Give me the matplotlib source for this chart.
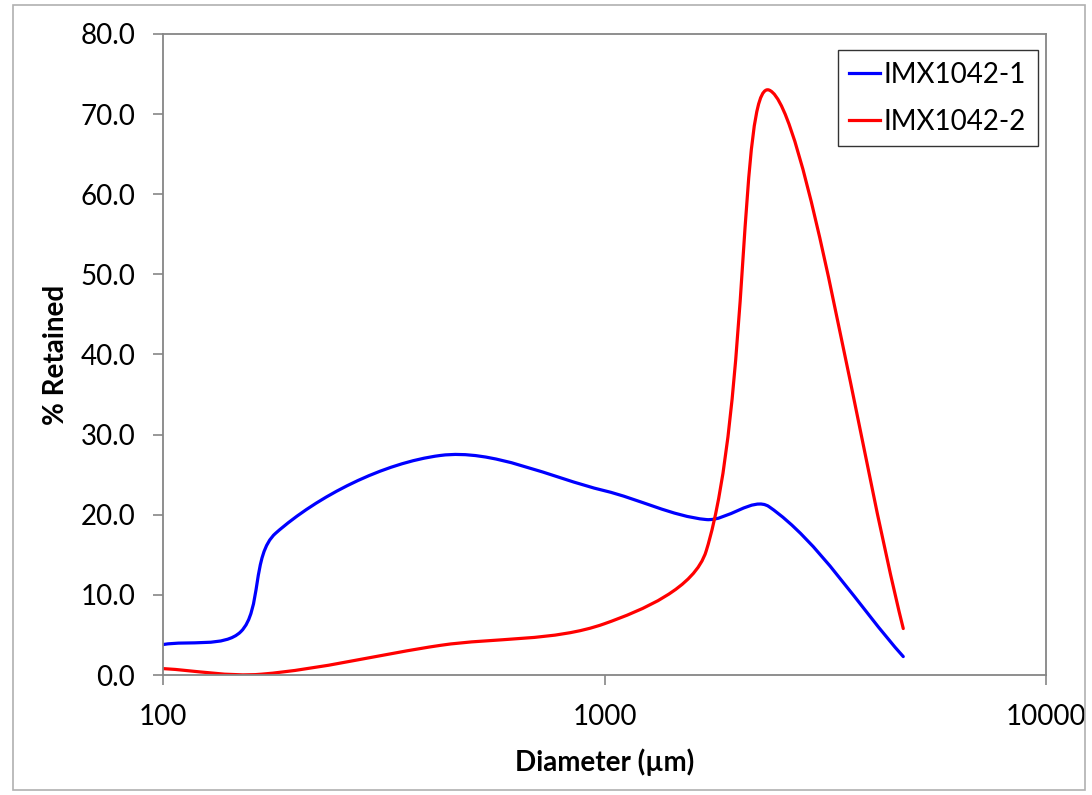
import numpy as np
import matplotlib
matplotlib.use("Agg")
import matplotlib.pyplot as plt
from matplotlib.path import Path
from matplotlib.patches import PathPatch, Rectangle
from matplotlib.lines import Line2D
from matplotlib.ticker import FixedLocator, NullLocator

# sieve data
x_blue = [100, 150, 180, 425, 1000, 1700, 2360, 4750]
y_blue = [3.8, 5.4, 17.7, 27.4, 23.0, 19.4, 21.0, 2.3]
x_red = [100, 167, 425, 1000, 1700, 2360, 4750]
y_red = [0.8, 0.1, 3.7, 6.4, 15.5, 73.0, 5.8]
labels = ["IMX1042-1", "IMX1042-2"]
colors = ["#0000FF", "#FF0000"]
y_ticks = [0, 10, 20, 30, 40, 50, 60, 70, 80]
x_ticks = [100, 1000, 10000]

plt.rcParams["font.family"] = ["Lato", "DejaVu Sans"]
GRAY = "#868686"


def smooth_path(ax, xs, ys):
    # Excel-like smoothed line: cubic Bezier built in screen space
    pts = ax.transData.transform(np.column_stack([xs, ys]))
    n = len(pts)
    verts = [pts[0]]
    codes = [Path.MOVETO]
    for i in range(n - 1):
        p0 = pts[i - 1] if i > 0 else pts[i]
        p1, p2 = pts[i], pts[i + 1]
        p3 = pts[i + 2] if i + 2 < n else pts[i + 1]
        d01 = np.hypot(*(p1 - p0))
        d12 = np.hypot(*(p2 - p1))
        d23 = np.hypot(*(p3 - p2))
        c1 = p1 + (p2 - p0) * d12 / (d01 + d12) / 3
        c2 = p2 - (p3 - p1) * d12 / (d12 + d23) / 3
        verts += [c1, c2, p2]
        codes += [Path.CURVE4] * 3
    verts = ax.transData.inverted().transform(np.array(verts))
    return Path(verts, codes)


fig = plt.figure(figsize=(10.92, 7.95), dpi=100)
fig.patches.append(Rectangle((13 / 1092, 5 / 795), 1072 / 1092, 785 / 795,
                             transform=fig.transFigure, fill=False,
                             edgecolor="#B0B0B0", linewidth=1.2))
ax = fig.add_axes([163 / 1092, 1 - 675 / 795, 883 / 1092, 641 / 795])
ax.set_xscale("log")
ax.set_xlim(100, 10000)
ax.set_ylim(0, 80)

for xs, ys, c in [(x_blue, y_blue, colors[0]), (x_red, y_red, colors[1])]:
    ax.add_patch(PathPatch(smooth_path(ax, xs, ys), fill=False,
                           edgecolor=c, linewidth=2.3, capstyle="round"))

ax.xaxis.set_major_locator(FixedLocator(x_ticks))
ax.xaxis.set_minor_locator(NullLocator())
ax.set_xticklabels([str(v) for v in x_ticks])
ax.set_yticks(y_ticks)
ax.set_yticklabels([f"{v:.1f}" for v in y_ticks])
ax.tick_params(axis="both", direction="out", length=7, width=1.2,
               color=GRAY, labelsize=20)
ax.tick_params(axis="y", pad=13)
ax.tick_params(axis="x", pad=14)
for s in ax.spines.values():
    s.set_color(GRAY)
    s.set_linewidth(1.3)

ax.set_xlabel("Diameter (µm)", fontsize=20, fontweight="bold", labelpad=13)
ax.set_ylabel("% Retained", fontsize=20, fontweight="bold", labelpad=8)

handles = [Line2D([], [], color=c, linewidth=2.3) for c in colors]
leg = ax.legend(handles, labels, loc="upper right",
                bbox_to_anchor=(1 - 8 / 883, 1 - 16 / 641),
                fontsize=20, handlelength=1.1, handletextpad=0.15,
                borderpad=0.42, labelspacing=0.75, borderaxespad=0,
                fancybox=False, framealpha=1)
leg.get_frame().set_edgecolor("#333333")
leg.get_frame().set_linewidth(1.0)

fig.savefig("out.png", dpi=100)
